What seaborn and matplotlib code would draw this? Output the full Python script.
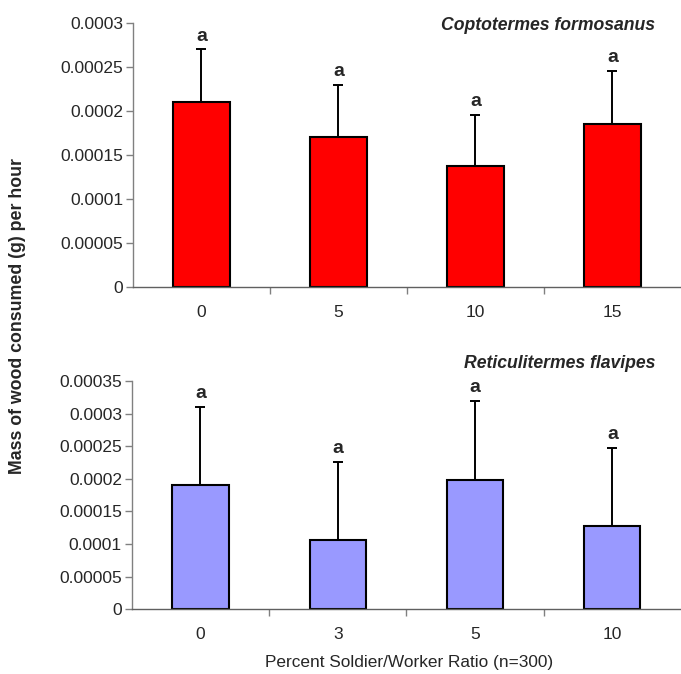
import numpy as np
import pandas as pd
import matplotlib
matplotlib.use('Agg')
import matplotlib.pyplot as plt
import seaborn as sns

# Data
cf_ratio = ['0', '5', '10', '15']
cf_mass = [0.00021, 0.00017, 0.000138, 0.000185]
cf_err = [0.00006, 0.00006, 0.000058, 0.000061]
cf_letters = ['a', 'a', 'a', 'a']

rf_ratio = ['0', '3', '5', '10']
rf_mass = [0.00019, 0.000106, 0.000198, 0.000127]
rf_err = [0.00012, 0.00012, 0.000121, 0.000121]
rf_letters = ['a', 'a', 'a', 'a']

sns.set_style('white')
plt.rcParams['font.family'] = ['Liberation Sans', 'DejaVu Sans']

fig = plt.figure(figsize=(6.81, 6.74), dpi=100)
ax1 = fig.add_axes([0.1953, 0.5742, 0.8047, 0.3917])
ax2 = fig.add_axes([0.1934, 0.0960, 0.8066, 0.3387])


def fmt(v):
    if v == 0:
        return '0'
    return ('%.5f' % v).rstrip('0')


def draw_panel(ax, ratio, mass, err, letters, color, ymax, step, title, title_y):
    df = pd.DataFrame({'ratio': ratio, 'mass': mass})
    sns.barplot(data=df, x='ratio', y='mass', color=color, width=0.41,
                edgecolor='black', linewidth=1.5, saturation=1, ax=ax)
    xs = np.arange(len(ratio))
    ax.errorbar(xs, mass, yerr=[np.zeros(len(err)), err], fmt='none',
                ecolor='black', elinewidth=1.4, capsize=3.8, capthick=1.4, zorder=3)
    for x, m, e, t in zip(xs, mass, err, letters):
        ax.annotate(t, (x, m + e), xytext=(0, 3.5), textcoords='offset points',
                    ha='center', va='bottom', fontsize=14, fontweight='bold')
    ax.set_xlim(-0.5, len(ratio) - 0.5)
    ax.set_ylim(0, ymax)
    yt = np.arange(0, ymax + step / 2, step)
    ax.set_yticks(yt)
    ax.set_yticklabels([fmt(v) for v in yt], fontsize=12.5)
    ax.set_xticks(xs)
    ax.set_xticklabels(ratio, fontsize=12.5)
    ax.set_xticks(np.arange(0.5, len(ratio) - 0.5, 1), minor=True)
    ax.tick_params(axis='x', which='major', length=0, pad=13)
    ax.tick_params(axis='x', which='minor', length=5, width=1, color='#808080', direction='out', bottom=True)
    ax.tick_params(axis='y', length=5, width=1, color='#808080', direction='out', left=True, pad=2)
    for s in ['top', 'right']:
        ax.spines[s].set_visible(False)
    ax.spines['left'].set_color('#808080')
    ax.spines['bottom'].set_color('#606060')
    ax.spines['left'].set_linewidth(1)
    ax.spines['bottom'].set_linewidth(1)
    ax.set_xlabel('')
    ax.set_ylabel('')
    fig.text(0.962, title_y, title, ha='right', va='center', fontsize=12.7,
             fontweight='bold', fontstyle='italic')


draw_panel(ax1, cf_ratio, cf_mass, cf_err, cf_letters, '#FF0000', 0.0003, 0.00005,
           'Coptotermes formosanus', 1 - 26 / 674)
draw_panel(ax2, rf_ratio, rf_mass, rf_err, rf_letters, '#9999FF', 0.00035, 0.00005,
           'Reticulitermes flavipes', 1 - 363 / 674)

fig.text(18 / 681, 1 - 316 / 674, 'Mass of wood consumed (g) per hour', rotation=90,
         ha='center', va='center', fontsize=12.8, fontweight='bold')
fig.text(409 / 681, 1 - 662 / 674, 'Percent Soldier/Worker Ratio (n=300)',
         ha='center', va='center', fontsize=12.4)

fig.savefig('out.png', dpi=100)
